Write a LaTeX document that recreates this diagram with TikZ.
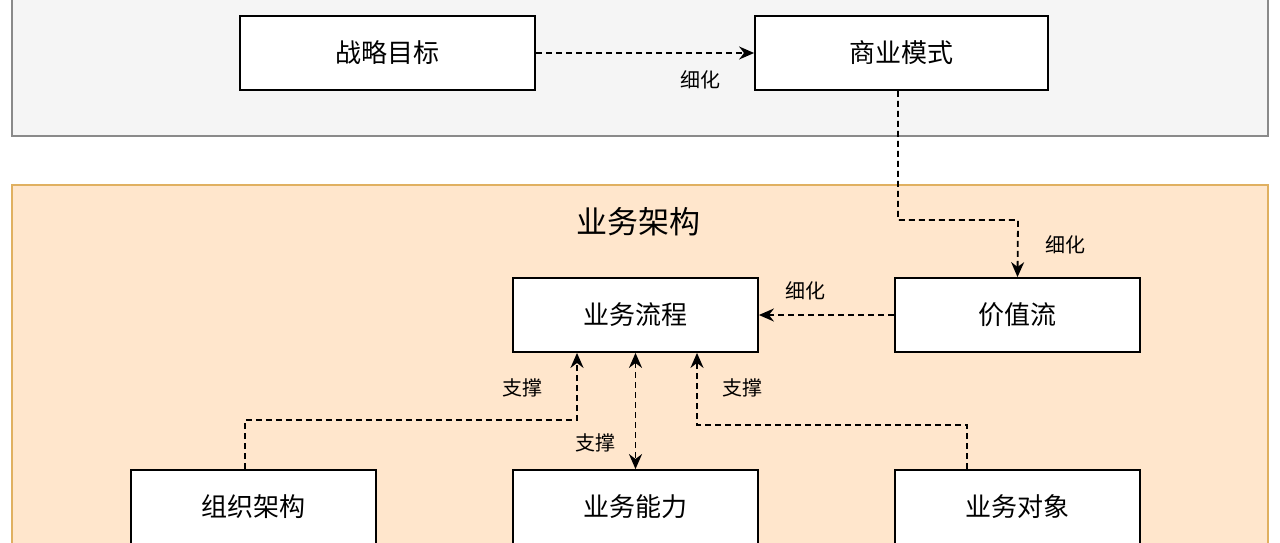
\documentclass[tikz,border=0pt]{standalone}
\usepackage{fontspec}
\newfontfamily\cjk{Noto Sans CJK SC}[BoldFont={Noto Sans CJK SC Medium}]
\usetikzlibrary{arrows.meta}
\begin{document}
\begin{tikzpicture}[x=1pt,y=-1pt,
  box/.style={draw=black,line width=1.8pt,fill=white,minimum width=245pt,minimum height=74pt,font=\cjk\fontsize{26}{30}\selectfont,inner sep=0pt},
  lab/.style={font=\cjk\fontsize{20}{22}\selectfont,inner sep=1pt},
  tip/.style={Stealth[length=15pt,width=13pt]},
  con/.style={line width=1.8pt,dash pattern=on 6pt off 4pt,-{Stealth[length=15pt,width=13pt]}}]
\useasboundingbox (0,0) rectangle (1280,543);
\definecolor{gbg}{HTML}{F5F5F5}\definecolor{gst}{HTML}{8A8A8A}
\definecolor{obg}{HTML}{FFE6CC}\definecolor{ost}{HTML}{E0B060}
\draw[gst,fill=gbg,line width=1.8pt] (12,-20) rectangle (1268,136);
\draw[ost,fill=obg,line width=1.8pt] (12,185) rectangle (1268,600);
\node[box,minimum width=295pt] (zl) at (387.5,53) {战略目标};
\node[box,minimum width=293pt] (sy) at (901.5,53) {商业模式};
\node[font=\cjk\fontsize{31}{36}\selectfont] (t) at (638,222) {业务架构};
\node[box] (lc) at (635.5,315) {业务流程};
\node[box] (jz) at (1017.5,315) {价值流};
\node[box] (zz) at (253.5,507) {组织架构};
\node[box] (nl) at (635.5,507) {业务能力};
\node[box] (dx) at (1017.5,507) {业务对象};
\draw[con] (zl) -- (sy);
\node[lab] at (700,80) {细化};
\draw[con] (sy.south -| 898,0) |- (1018,220) -- (jz.north);
\node[lab] at (1065,245) {细化};
\draw[con] (jz) -- (lc);
\node[lab] at (805,291) {细化};
\draw[con] (zz.north -| 245,0) |- (577,420) -- (lc.south -| 577,0);
\node[lab] at (522,388) {支撑};
\draw[con,{Stealth[length=15pt,width=13pt]}-{Stealth[length=15pt,width=13pt]}] (lc) -- (nl);
\node[lab] at (595,443) {支撑};
\draw[con] (dx.north -| 967,0) |- (697,425) -- (lc.south -| 697,0);
\node[lab] at (742,388) {支撑};
\end{tikzpicture}
\end{document}
